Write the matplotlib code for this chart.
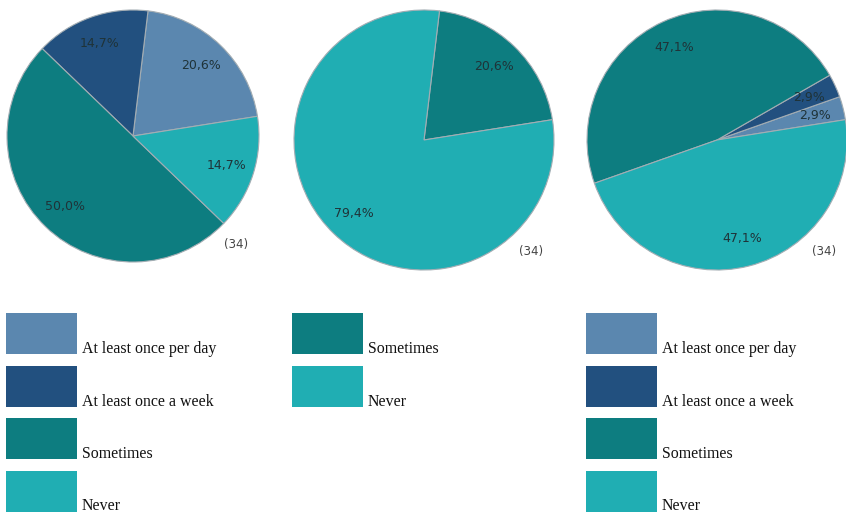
import matplotlib.pyplot as plt
from matplotlib.patches import Rectangle

# answer categories and colours
categories = ["At least once per day", "At least once a week", "Sometimes", "Never"]
colors = {
    "At least once per day": "#5B87AF",
    "At least once a week": "#22507F",
    "Sometimes": "#0D7D80",
    "Never": "#20AEB3",
}

# three questions, shares in percent (n = 34 each)
q1_labels = ["At least once per day", "At least once a week", "Sometimes", "Never"]
q1_values = [20.6, 14.7, 50.0, 14.7]
q2_labels = ["Sometimes", "Never"]
q2_values = [20.6, 79.4]
q3_labels = ["At least once per day", "At least once a week", "Sometimes", "Never"]
q3_values = [2.9, 2.9, 47.1, 47.1]
counts = [34, 34, 34]

W, H = 846, 514
fig = plt.figure(figsize=(W / 100, H / 100), dpi=100)


def px_axes(cx, cy, r):
    # axes whose [-1, 1] square spans a circle of radius r px around (cx, cy)
    ax = fig.add_axes([(cx - r) / W, 1 - (cy + r) / H, 2 * r / W, 2 * r / H])
    ax.set_xlim(-1, 1)
    ax.set_ylim(-1, 1)
    ax.set_aspect("equal")
    ax.axis("off")
    return ax


pies = [
    (133, 136, 126, q1_labels, q1_values),
    (424, 140, 130, q2_labels, q2_values),
    (717, 140, 130, q3_labels, q3_values),
]

for (cx, cy, r, labels, values), n in zip(pies, counts):
    ax = px_axes(cx, cy, r)
    wedges, texts, autotexts = ax.pie(
        values,
        colors=[colors[l] for l in labels],
        startangle=9,
        counterclock=True,
        radius=1,
        autopct=lambda p: f"{p:.1f}%".replace(".", ","),
        pctdistance=0.78,
        wedgeprops=dict(edgecolor="#A3ADB3", linewidth=0.8),
        textprops=dict(fontsize=9, color="#1f3338", family="DejaVu Sans"),
    )
    ax.set_xlim(-1, 1)
    ax.set_ylim(-1, 1)
    ax.text(0.82, -0.86, f"({n})", fontsize=8.5, color="#444444",
            family="DejaVu Sans", ha="center", va="center")

# legends under each pie
legend_cols = [
    (6, q1_labels),
    (292, q2_labels),
    (586, q3_labels),
]
row_top = 313
row_step = 52.5
patch_w, patch_h = 71, 41

for x0, labels in legend_cols:
    for i, lab in enumerate(labels):
        y = row_top + i * row_step
        fig.patches.append(Rectangle((x0 / W, 1 - (y + patch_h) / H),
                                     patch_w / W, patch_h / H,
                                     transform=fig.transFigure,
                                     facecolor=colors[lab], edgecolor="none"))
        fig.text((x0 + patch_w + 5) / W, 1 - (y + patch_h - 1) / H, lab,
                 fontsize=11.4, family="Liberation Serif", color="#111111",
                 ha="left", va="baseline")

fig.savefig("out.png", dpi=100)
